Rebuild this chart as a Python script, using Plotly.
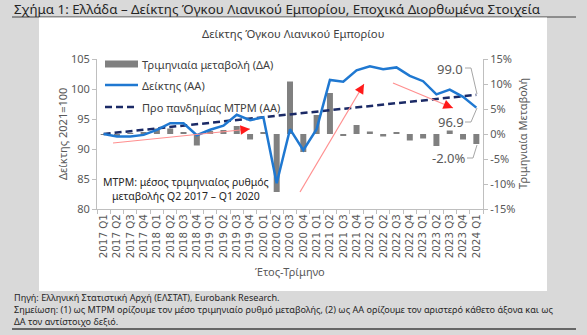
import plotly.graph_objects as go

# ---------------- data ----------------
quarters = ["2017 Q1", "2017 Q2", "2017 Q3", "2017 Q4",
            "2018 Q1", "2018 Q2", "2018 Q3", "2018 Q4",
            "2019 Q1", "2019 Q2", "2019 Q3", "2019 Q4",
            "2020 Q1", "2020 Q2", "2020 Q3", "2020 Q4",
            "2021 Q1", "2021 Q2", "2021 Q3", "2021 Q4",
            "2022 Q1", "2022 Q2", "2022 Q3", "2022 Q4",
            "2023 Q1", "2023 Q2", "2023 Q3", "2023 Q4",
            "2024 Q1"]

# Index (left axis, 2021=100)
index_vals = [92.5, 92.1, 92.1, 92.35, 93.2, 94.3, 94.3, 92.3,
              93.2, 93.9, 95.7, 94.8, 95.3, 84.3, 93.3, 89.8,
              93.3, 101.5, 101.2, 103.1, 103.8, 103.3, 103.6, 102.2,
              101.3, 99.1, 99.9, 98.7, 96.9]

# Quarterly change % (right axis)
qoq_change = [-0.2, -0.4, 0.1, 0.3, 1.1, 1.1, 0.4, -2.3,
              0.6, 0.8, 1.6, -1.1, 0.4, -11.6, 10.5, -3.6,
              3.8, 8.2, -0.3, 1.8, 0.5, -0.5, 0.3, -1.3,
              -0.9, -2.4, 0.7, -1.1, -2.0]

# Pre-pandemic average quarterly growth path (left axis)
mtpm_vals = [92.50, 92.73, 92.95, 93.18, 93.41, 93.63, 93.86, 94.09,
             94.32, 94.55, 94.78, 95.01, 95.24, 95.48, 95.71, 95.94,
             96.18, 96.41, 96.65, 96.88, 97.12, 97.35, 97.59, 97.83,
             98.07, 98.31, 98.55, 98.79, 99.03]

left_ticks = [80, 85, 90, 95, 100, 105]
right_ticks = [-15, -10, -5, 0, 5, 10, 15]
right_ticktext = ["-15%", "-10%", "-5%", "0%", "5%", "10%", "15%"]

# ---------------- layout geometry (pixels) ----------------
W, H = 587, 335
L, R, T, B = 97, 483, 59, 209


def px(x):
    return (x - L) / (R - L)


def py(y):
    return (B - y) / (B - T)


FONT = "Noto Sans"
GRAY_TXT = "#595959"
DARK_TXT = "#262626"
AXIS_COL = "#bfbfbf"
BAR_COL = "#808080"
LINE_COL = "#1f78d1"
DASH_COL = "#1b2a66"

fig = go.Figure()

fig.add_trace(go.Bar(x=quarters, y=qoq_change, yaxis="y",
                     marker=dict(color=BAR_COL, line=dict(width=0)),
                     width=0.45, showlegend=False))
fig.add_trace(go.Scatter(x=quarters, y=mtpm_vals, yaxis="y2", mode="lines",
                         line=dict(color=DASH_COL, width=2.5, dash="7px,4px"),
                         showlegend=False))
fig.add_trace(go.Scatter(x=quarters, y=index_vals, yaxis="y2", mode="lines",
                         line=dict(color=LINE_COL, width=2.5),
                         showlegend=False))

shapes = []
# title underline and bottom rule
shapes.append(dict(type="line", xref="paper", yref="paper",
                   x0=px(12), x1=px(576), y0=py(17), y1=py(17),
                   line=dict(color="#404040", width=1), layer="below"))
# white chart box
shapes.append(dict(type="rect", xref="paper", yref="paper",
                   x0=px(39), x1=px(547), y0=py(291), y1=py(17.5),
                   fillcolor="white", line=dict(width=0), layer="below"))
shapes.append(dict(type="line", xref="paper", yref="paper",
                   x0=px(12), x1=px(576), y0=py(329), y1=py(329),
                   line=dict(color="#404040", width=1.5), layer="below"))

# custom legend symbols
shapes.append(dict(type="rect", xref="paper", yref="paper",
                   x0=px(105), x1=px(138), y0=py(67.5), y1=py(60.5),
                   fillcolor=BAR_COL, line=dict(width=0)))
shapes.append(dict(type="line", xref="paper", yref="paper",
                   x0=px(105), x1=px(138), y0=py(85), y1=py(85),
                   line=dict(color=LINE_COL, width=2.5)))
shapes.append(dict(type="line", xref="paper", yref="paper",
                   x0=px(105), x1=px(138), y0=py(107), y1=py(107),
                   line=dict(color=DASH_COL, width=2.5, dash="7px,4px")))

# red/pink trend arrows (lines)
arrows = [((113, 143), (250, 129)),
          ((300, 192), (364, 84)),
          ((393, 83), (453, 108))]
for (x0, y0), (x1, y1) in arrows:
    shapes.append(dict(type="line", xref="paper", yref="paper",
                       x0=px(x0), y0=py(y0), x1=px(x1), y1=py(y1),
                       line=dict(color="#ff8f8f", width=1.2)))

# leader lines for data labels
leaders = [[(465, 68), (471, 68), (477, 94)],
           [(465, 122), (471, 122), (477, 108)],
           [(467, 158), (473, 158), (477, 145)]]
for pts in leaders:
    path = "M " + " L ".join(f"{px(x)},{py(y)}" for x, y in pts)
    shapes.append(dict(type="path", xref="paper", yref="paper", path=path,
                       line=dict(color="#a6a6a6", width=1)))

annotations = []


def txt(x, y, text, size, color=DARK_TXT, xanchor="center", yanchor="middle",
        angle=0, align="center"):
    annotations.append(dict(x=px(x), y=py(y), xref="paper", yref="paper",
                            text=text, showarrow=False, xanchor=xanchor,
                            yanchor=yanchor, textangle=angle, align=align,
                            font=dict(family=FONT, size=size, color=color)))


# outer title
txt(12, 8.5, "Σχήμα 1: Ελλάδα – Δείκτης Όγκου Λιανικού Εμπορίου, Εποχικά Διορθωμένα Στοιχεία",
    13.3, DARK_TXT, xanchor="left")
# chart title
txt(293, 33, "Δείκτης Όγκου Λιανικού Εμπορίου", 11.3, "#404040")
# legend texts
txt(140, 64, "Τριμηνιαία μεταβολή (ΔΑ)", 11, "#404040", xanchor="left")
txt(140, 85, "Δείκτης (ΑΑ)", 11, "#404040", xanchor="left")
txt(140, 107, "Προ πανδημίας ΜΤΡΜ (ΑΑ)", 11, "#404040", xanchor="left")
# note inside chart
txt(186, 189, "ΜΤΡΜ: μέσος τριμηνιαίος ρυθμός<br>μεταβολής Q2 2017 – Q1 2020", 10.5, DARK_TXT)
# axis titles
txt(290, 271, "Έτος-Τρίμηνο", 11, GRAY_TXT)
txt(62, 134, "Δείκτης 2021=100", 11, GRAY_TXT, angle=-90)
txt(522, 134, "Τριμηνιαία Μεταβολή", 11, GRAY_TXT, angle=-90)
# data labels
txt(450, 69, f"{mtpm_vals[-1]:.1f}", 13, GRAY_TXT)
txt(451, 122, f"{index_vals[-1]:.1f}", 13, GRAY_TXT)
txt(449, 158, f"{qoq_change[-1]:.1f}%", 13, GRAY_TXT)
# footnotes
txt(12, 309, "Πηγή: Ελληνική Στατιστική Αρχή (ΕΛΣΤΑΤ), Eurobank Research.<br>"
    "Σημείωση: (1) ως ΜΤΡΜ ορίζουμε τον μέσο τριμηνιαίο ρυθμό μεταβολής, (2) ως ΑΑ ορίζουμε τον αριστερό κάθετο άξονα και ως<br>"
    "ΔΑ τον αντίστοιχο δεξιό.", 9.1, DARK_TXT, xanchor="left", align="left")

# arrowheads
for (x0, y0), (x1, y1) in arrows:
    dx, dy = x1 - x0, y1 - y0
    n = (dx * dx + dy * dy) ** 0.5
    annotations.append(dict(x=px(x1), y=py(y1), xref="paper", yref="paper",
                            ax=-dx / n * 9, ay=-dy / n * 9, text="",
                            showarrow=True, arrowhead=2, arrowsize=1.6,
                            arrowwidth=1.2, arrowcolor="#ff1a1a", standoff=0))

axis_common = dict(showgrid=False, zeroline=False, showline=True,
                   linecolor=AXIS_COL, linewidth=1, ticks="outside",
                   ticklen=4, tickcolor=AXIS_COL,
                   tickfont=dict(family=FONT, size=11, color=GRAY_TXT))

fig.update_layout(
    width=W, height=H,
    margin=dict(l=L, r=W - R, t=T, b=H - B, pad=0),
    paper_bgcolor="#d9d9d9",
    plot_bgcolor="white",
    showlegend=False,
    xaxis=dict(type="category", tickangle=-90, tickson="boundaries",
               showgrid=False, zeroline=False, showline=True,
               linecolor=AXIS_COL, ticks="outside", ticklen=4,
               tickcolor=AXIS_COL, range=[-0.5, 28.5],
               tickfont=dict(family="DejaVu Sans", size=10.3, color=GRAY_TXT)),
    yaxis=dict(side="right", range=[-15, 15], tickmode="array",
               tickvals=right_ticks, ticktext=right_ticktext, **axis_common),
    yaxis2=dict(side="left", overlaying="y", range=[80, 105],
                tickmode="array", tickvals=left_ticks,
                ticktext=[str(v) for v in left_ticks], **axis_common),
    shapes=shapes,
    annotations=annotations,
)

fig.write_html("out.html")
